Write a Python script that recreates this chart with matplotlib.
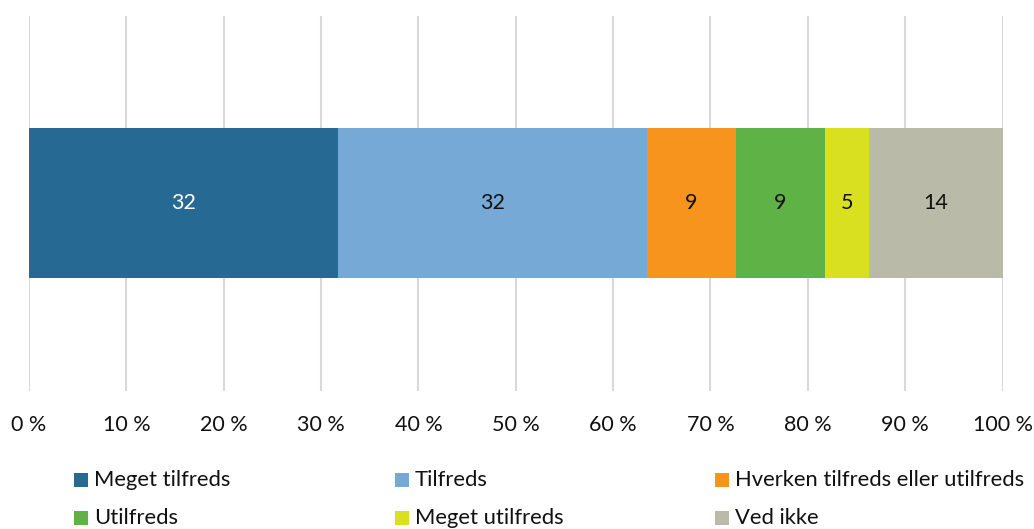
import matplotlib
matplotlib.use('Agg')
import matplotlib.pyplot as plt
import matplotlib.patches as patches
import numpy as np

plt.rcParams['font.family'] = ['Lato', 'DejaVu Sans']

# ---- data ----
categories = ['Meget tilfreds', 'Tilfreds', 'Hverken tilfreds eller utilfreds',
              'Utilfreds', 'Meget utilfreds', 'Ved ikke']
values = [32.4, 32.3, 9.4, 9.3, 4.6, 14.0]
colors = ['#266a93', '#77a9d7', '#f6941d', '#5fb246', '#d8e020', '#babaa8']
label_colors = ['white', '#111111', '#111111', '#111111', '#111111', '#111111']
xticks = np.arange(0, 101, 10)
xticklabels = [f'{t} %' for t in xticks]

vals = np.array(values)
shares = vals / vals.sum() * 100
lefts = np.concatenate([[0], np.cumsum(shares)[:-1]])

fig = plt.figure(figsize=(10.34, 5.29), dpi=100, facecolor='white')
ax = fig.add_axes([0.02805, 0.2609, 0.9415, 0.7089])

for i, (cat, s, l, c) in enumerate(zip(categories, shares, lefts, colors)):
    ax.barh(0, s, left=l, height=0.4, color=c, edgecolor='none', zorder=3)
    ax.text(l + s / 2, 0, f'{int(np.floor(vals[i] + 0.5))}', ha='center', va='center',
            color=label_colors[i], fontsize=15.5, zorder=4)

ax.set_xlim(0, 100)
ax.set_ylim(-0.5, 0.5)
ax.set_xticks(xticks)
ax.set_xticklabels(xticklabels, fontsize=15.5, color='#111111')
ax.set_yticks([])
ax.tick_params(axis='x', length=0, pad=17)
ax.grid(axis='x', color='#d9d9d9', linewidth=1.5, zorder=0)
for sp in ax.spines.values():
    sp.set_visible(False)

# ---- legend (row-major, equal column widths) ----
col_x = [74, 395, 715]
row_y = [480, 518]
W, H = 1034, 529
sq = 14
for i, (cat, c) in enumerate(zip(categories, colors)):
    x = col_x[i % 3]
    y = row_y[i // 3]
    fig.patches.append(patches.Rectangle(
        (x / W, (H - y - sq / 2) / H), sq / W, sq / H,
        transform=fig.transFigure, facecolor=c, edgecolor='none'))
    fig.text((x + sq + 6) / W, (H - y) / H, cat, ha='left', va='center',
             fontsize=15.8, color='#111111')

fig.savefig('out.png', dpi=100, facecolor='white')
